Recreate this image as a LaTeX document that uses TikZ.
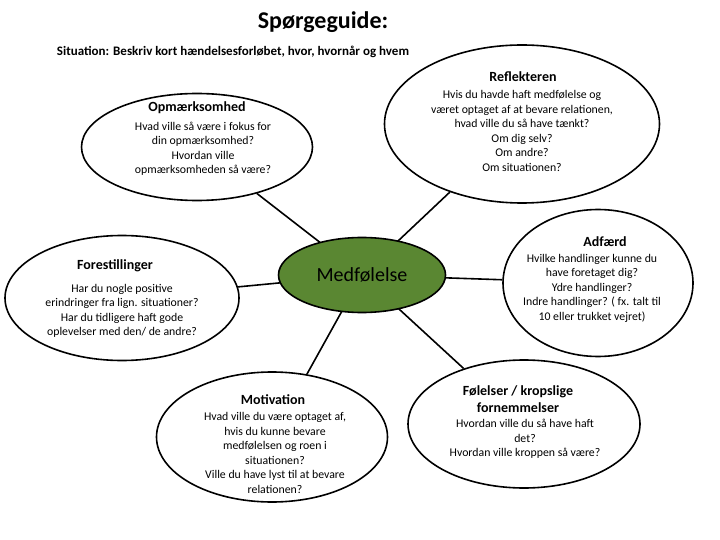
\documentclass[tikz,border=0pt]{standalone}
\usepackage{fontspec}
\setmainfont{Carlito}
\usetikzlibrary{shapes.geometric}
\definecolor{leafgreen}{RGB}{90,135,50}
\begin{document}
\begin{tikzpicture}[x=1pt,y=-1pt]
    \tikzstyle{every node}=[inner sep=0pt]
    \tikzstyle{bubble}=[draw=black,line width=1.6pt,ellipse,fill=white]
    \tikzstyle{head}=[font=\fontsize{14}{17}\selectfont\bfseries,align=center]
    \tikzstyle{body}=[font=\fontsize{11.8}{14.5}\selectfont,align=center]
    \useasboundingbox (0,0) rectangle (720,540);

    % title
    \node[font=\fontsize{24}{28}\selectfont\bfseries] (title) at (323,22) {Spørgeguide:};
    \node[font=\fontsize{13}{15}\selectfont\bfseries] (situation) at (233,52) {Situation: Beskriv kort hændelsesforløbet, hvor, hvornår og hvem};

    % center
    \coordinate (center) at (362,275);

    % outer bubbles
    \node[bubble,minimum width=231,minimum height=107] (opm) at (197,147) {};
    \node[bubble,minimum width=275,minimum height=158] (refl) at (522,124) {};
    \node[bubble,minimum width=234,minimum height=125] (fore) at (122,298) {};
    \node[bubble,minimum width=190,minimum height=147] (adf) at (598,283) {};
    \node[bubble,minimum width=231,minimum height=130] (moti) at (272,437) {};
    \node[bubble,minimum width=232,minimum height=128] (fol) at (524,424) {};

    % connectors
    \foreach \n in {opm,refl,fore,adf,moti,fol}
        \draw[line width=1.6pt] (center) -- (\n);
    \node[draw=black,line width=1.6pt,ellipse,fill=leafgreen,minimum width=167,minimum height=75,font=\fontsize{20}{24}\selectfont] (medf) at (center) {Medfølelse};

    % Opmærksomhed
    \node[head] (opmhead) at (197,108) {Opmærksomhed};
    \node[body] (opmbody) at (203,149) {Hvad ville så være i fokus for\\din opmærksomhed?\\Hvordan ville\\opmærksomheden så være?};

    % Reflekteren
    \node[head] (reflhead) at (523,77) {Reflekteren};
    \node[body] (reflbody) at (522,131) {Hvis du havde haft medfølelse og\\været optaget af at bevare relationen,\\hvad ville du så have tænkt?\\Om dig selv?\\Om andre?\\Om situationen?};

    % Forestillinger
    \node[head] (forehead) at (115,266) {Forestillinger};
    \node[body] (forebody) at (122,311) {Har du nogle positive\\erindringer fra lign. situationer?\\Har du tidligere haft gode\\oplevelser med den/ de andre?};

    % Adfærd
    \node[head] (adfhead) at (605,242) {Adfærd};
    \node[body] (adfbody) at (592,288) {Hvilke handlinger kunne du\\have foretaget dig?\\Ydre handlinger?\\Indre handlinger? ( fx. talt til\\10 eller trukket vejret)};

    % Motivation
    \node[head] (motihead) at (273,400) {Motivation};
    \node[body] (motibody) at (275,453) {Hvad ville du være optaget af,\\hvis du kunne bevare\\medfølelsen og roen i\\situationen?\\Ville du have lyst til at bevare\\relationen?};

    % Følelser
    \node[head] (folhead) at (518,399) {Følelser / kropslige\\fornemmelser};
    \node[body] (folbody) at (525,439) {Hvordan ville du så have haft\\det?\\Hvordan ville kroppen så være?};
\end{tikzpicture}
\end{document}
